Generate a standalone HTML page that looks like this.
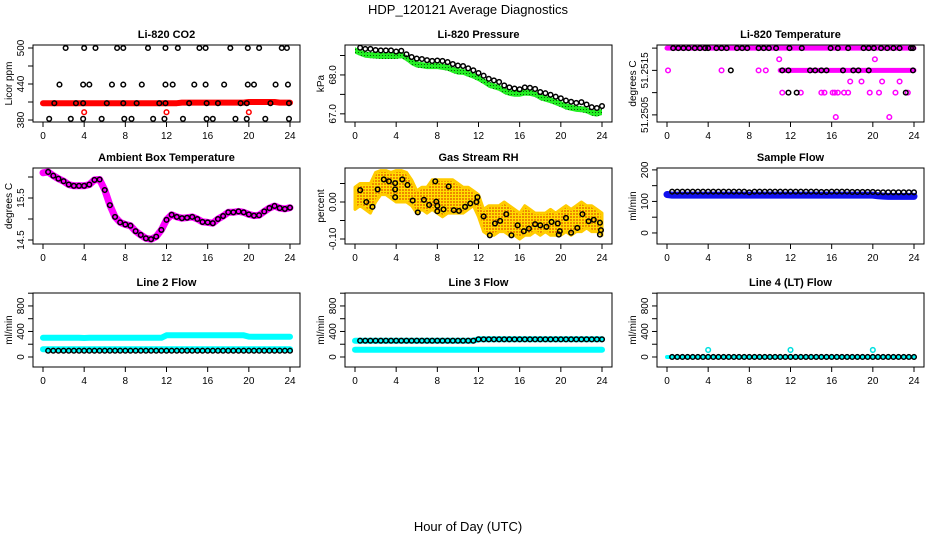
<!DOCTYPE html>
<html><head><meta charset="utf-8">
<style>
body{margin:0;background:#fff;}
svg{display:block;font-family:"Liberation Sans",Arial,sans-serif;}
</style></head>
<body>
<svg id="c" width="936" height="540" viewBox="0 0 936 540">
<defs>
<pattern id="pGreen" width="3" height="3" patternUnits="userSpaceOnUse"><rect width="3" height="3" fill="#22ee22"/><rect x="1" y="1" width="1" height="1" fill="#0a5a0a"/></pattern>
<pattern id="pOrange" width="3" height="3" patternUnits="userSpaceOnUse"><rect width="3" height="3" fill="#ffe000"/><rect x="0" y="0" width="2" height="2" fill="#ee8800"/></pattern>
</defs>
<text x="468" y="14" text-anchor="middle" font-size="13">HDP_120121  Average Diagnostics</text>
<text x="468" y="531" text-anchor="middle" font-size="13">Hour of Day (UTC)</text>
</svg>
<script>
// shared half-hour categories
const hours = [0,0.5,1,1.5,2,2.5,3,3.5,4,4.5,5,5.5,6,6.5,7,7.5,8,8.5,9,9.5,10,10.5,11,11.5,12,12.5,13,13.5,14,14.5,15,15.5,16,16.5,17,17.5,18,18.5,19,19.5,20,20.5,21,21.5,22,22.5,23,23.5,24];
const xTicks = [0,4,8,12,16,20,24];

// CO2
const co2Red = [408,408,408,408,408,408,408,408,408,408,408,408,408,408,408,408,408,408,408,408,408,408,408,408,408,408,408,409,409,409,409,409,409,409,409,409,409,409,409,409,410,410,410,410,410,410,409,409,409];
const co2RedOutHours = [4,12,20];
const co2RedOutVals = [393,393,393];
const co2BlackHours = [2.2,4.0,5.1,7.2,7.8,10.2,11.9,13.1,15.2,15.8,18.2,19.9,21.0,23.2,23.7, 1.6,3.9,4.5,6.7,7.8,9.6,11.9,12.6,14.7,15.8,17.6,19.9,20.5,22.6,23.8, 1.1,3.2,3.9,6.2,7.8,9.1,11.3,11.9,14.2,15.9,17.0,19.2,19.8,22.1,23.9, 0.6,2.7,3.9,5.7,7.9,8.6,10.7,11.8,13.6,15.9,16.5,18.7,19.8,21.6,23.9];
const co2BlackVals = [500,500,500,500,500,500,500,500,500,500,500,500,500,500,500, 439,439,439,439,439,439,439,439,439,439,439,439,439,439,439, 408,408,408,408,408,408,408,408,408,408,408,408,408,408,408, 382,382,382,382,382,382,382,382,382,382,382,382,382,382,382];

// Pressure
const presBlack = [68.70,68.70,68.67,68.67,68.64,68.63,68.63,68.63,68.60,68.62,68.53,68.46,68.42,68.41,68.38,68.36,68.37,68.36,68.33,68.28,68.24,68.23,68.17,68.12,68.05,67.98,67.90,67.86,67.82,67.73,67.68,67.65,67.63,67.68,67.67,67.64,67.56,67.53,67.49,67.44,67.40,67.34,67.31,67.28,67.30,67.24,67.17,67.15,67.20];
const presGreen = [68.64,68.58,68.53,68.52,68.51,68.50,68.50,68.50,68.50,68.52,68.44,68.34,68.28,68.26,68.24,68.24,68.24,68.22,68.20,68.14,68.10,68.09,68.04,67.99,67.93,67.85,67.76,67.72,67.68,67.60,67.55,67.53,67.53,67.56,67.55,67.52,67.44,67.40,67.36,67.31,67.26,67.20,67.17,67.14,67.13,67.10,67.04,67.02,67.06];

// Li-820 temperature
const tempBandHours = [[0,24],[11,24]];
const tempBandVals = [51.2520,51.2515];
const tempMagHours = [0.1,5.3,8.9,9.6,10.9,20.2,17.8,18.9,20.9,22.6,11.2,13.0,15.0,15.3,16.1,16.3,16.6,17.2,17.6,19.7,20.6,22.2,23.4,16.4,21.6];
const tempMagVals = [51.2515,51.2515,51.2515,51.2515,51.25175,51.25175,51.25125,51.25125,51.25125,51.25125,51.2510,51.2510,51.2510,51.2510,51.2510,51.2510,51.2510,51.2510,51.2510,51.2510,51.2510,51.2510,51.2510,51.25045,51.25045];
const tempBlackHours = [0.6,1.1,1.6,2.1,2.7,3.2,3.7,4.0,4.8,5.3,5.8,6.8,7.3,7.8,8.9,9.4,9.9,10.6,11.9,13.1,15.9,16.6,17.6,19.1,19.6,20.1,20.8,21.4,22.0,22.6,23.7,23.9, 6.2,11.2,11.8,13.9,14.4,15.0,15.5,17.1,18.1,18.6,19.6,23.9, 11.8,12.6,23.2];
const tempBlackVals = [51.2520,51.2520,51.2520,51.2520,51.2520,51.2520,51.2520,51.2520,51.2520,51.2520,51.2520,51.2520,51.2520,51.2520,51.2520,51.2520,51.2520,51.2520,51.2520,51.2520,51.2520,51.2520,51.2520,51.2520,51.2520,51.2520,51.2520,51.2520,51.2520,51.2520,51.2520,51.2520, 51.2515,51.2515,51.2515,51.2515,51.2515,51.2515,51.2515,51.2515,51.2515,51.2515,51.2515,51.2515, 51.2510,51.2510,51.2510];

// Ambient box temperature
const ambVals = [16.10,16.12,16.03,15.96,15.90,15.82,15.79,15.79,15.79,15.82,15.93,15.94,15.69,15.33,15.05,14.92,14.87,14.84,14.71,14.62,14.54,14.52,14.58,14.74,14.98,15.10,15.05,15.02,15.03,15.05,15.00,14.93,14.92,14.90,15.00,15.07,15.16,15.16,15.18,15.16,15.11,15.08,15.09,15.18,15.26,15.31,15.26,15.24,15.27];

// Gas stream RH
const rhHigh = [0.04,0.05,0.05,0.05,0.08,0.085,0.085,0.08,0.085,0.085,0.08,0.06,0.03,0.04,0.04,0.06,0.06,0.06,0.06,0.06,0.05,0.04,0.04,0.03,0.02,-0.02,-0.01,-0.01,-0.01,0.0,-0.01,-0.02,-0.03,-0.01,-0.02,-0.03,-0.03,-0.03,-0.02,-0.03,-0.02,-0.01,-0.02,-0.01,0.0,-0.01,-0.01,-0.02,-0.03];
const rhLow = [-0.02,-0.01,-0.02,-0.03,0.0,0.02,0.02,0.01,0.0,0.0,0.0,-0.01,-0.03,-0.02,-0.03,-0.02,-0.03,-0.04,-0.03,-0.03,-0.03,-0.03,-0.02,-0.01,-0.04,-0.08,-0.09,-0.09,-0.08,-0.08,-0.09,-0.09,-0.10,-0.09,-0.09,-0.08,-0.09,-0.08,-0.09,-0.09,-0.09,-0.08,-0.09,-0.08,-0.08,-0.07,-0.08,-0.08,-0.09];
const rhBlackHours = [0.5,1.1,1.7,2.2,2.8,3.3,3.9,3.9,3.9,4.6,5.1,5.6,6.1,6.7,7.2,7.8,7.9,8.0,8.0,8.6,9.1,9.6,10.1,10.7,11.2,11.8,11.9,12.5,13.1,13.6,14.1,14.7,15.2,15.8,16.4,16.9,17.5,18.0,18.6,19.1,19.7,19.8,19.9,20.5,21.0,21.6,22.1,22.7,23.2,23.8,23.9,23.8];
const rhBlackVals = [0.032,0.0,-0.013,0.034,0.061,0.056,0.051,0.034,0.013,0.061,0.046,0.004,-0.028,0.006,-0.008,0.056,0.001,-0.010,-0.025,-0.020,0.042,-0.022,-0.024,-0.013,-0.004,0.0,0.013,-0.039,-0.090,-0.058,-0.051,-0.033,-0.090,-0.063,-0.079,-0.072,-0.060,-0.063,-0.067,-0.054,-0.058,-0.088,-0.079,-0.043,-0.083,-0.070,-0.033,-0.052,-0.048,-0.056,-0.076,-0.088];

// Sample flow
const sampBlue = [122,120,120,120,120,120,120,120,120,120,120,120,120,120,120,120,120,120,120,120,120,120,120,120,120,120,120,120,120,120,120,120,120,120,120,120,120,120,120,120,120,118,117,116,116,116,116,116,116];
const sampBlack = [null,131,131,131,131,131,131,131,131,131,131,131,131,131,131,131,129,131,131,131,131,131,131,131,131,131,131,131,131,131,130,130,131,131,131,131,130,130,130,130,130,129,129,129,129,129,129,129,129];

// Line flows
const l2Upper = [303,303,302,300,300,300,300,300,298,300,300,300,300,300,300,300,300,300,300,300,300,300,300,300,340,340,340,340,340,340,340,340,340,340,340,340,340,340,340,340,320,318,318,318,318,318,318,318,318];
const l2Lower = [120,120,120,120,120,120,120,120,120,120,120,120,120,120,120,120,120,120,120,120,120,120,120,120,120,120,120,120,120,120,120,120,120,120,120,120,120,120,120,120,120,120,120,120,120,120,120,120,120];
const l2Black = [null,98,98,98,98,98,98,98,98,98,98,98,98,98,98,98,98,98,98,98,98,98,98,98,98,98,98,98,98,98,98,98,98,98,98,98,98,98,98,98,98,98,98,98,98,98,98,98,98];
const l3Upper = [255,255,255,255,255,255,255,255,255,255,255,255,255,255,255,255,255,255,255,255,255,255,255,255,277,277,277,277,277,277,277,277,277,277,277,277,277,277,277,277,277,277,277,277,277,277,277,277,277];
const l3Lower = [112,112,112,112,112,112,112,112,112,112,112,112,112,112,112,112,112,112,112,112,112,112,112,112,112,112,112,112,112,112,112,112,112,112,112,112,112,112,112,112,112,112,112,112,112,112,112,112,112];
const l3Black = [null,255,255,255,255,255,255,255,255,255,255,255,255,255,255,255,255,255,255,255,255,255,255,255,277,277,277,277,277,277,277,277,277,277,277,277,277,277,277,277,277,277,277,277,277,277,277,277,277];
const l4Cyan = [0,0,0,0,0,0,0,0,0,0,0,0,0,0,0,0,0,0,0,0,0,0,0,0,0,0,0,0,0,0,0,0,0,0,0,0,0,0,0,0,0,0,0,0,0,0,0,0,0];
const l4Black = [null,0,0,0,0,0,0,0,0,0,0,0,0,0,0,0,0,0,0,0,0,0,0,0,0,0,0,0,0,0,0,0,0,0,0,0,0,0,0,0,0,0,0,0,0,0,0,0,0];
const l4OutHours = [4,12,20];
const l4OutVals = [110,110,110];

const NS = 'http://www.w3.org/2000/svg';
const svg = document.getElementById('c');
function mk(tag, attrs, parent){
  const e = document.createElementNS(NS, tag);
  for (const k in attrs) e.setAttribute(k, attrs[k]);
  (parent||svg).appendChild(e);
  return e;
}
const colX = [33,345,657], rowY = [[45,122],[168,244],[293,367]];
const W = 267;

function panel(col, row, name, title, ylab, yDom, yTicks, yLabels){
  const L = colX[col], T = rowY[row][0], B = rowY[row][1];
  const g = mk('g', {});
  
  
  const sx = h => L + 10 + h * (W - 20) / 24;
  const sy = v => B - (v - yDom[0]) / (yDom[1] - yDom[0]) * (B - T);
  const t = mk('text', {x: L + W/2, y: T - 7, 'text-anchor':'middle', 'font-size':11, 'font-weight':'bold'}, g);
  t.textContent = title;
  
  
  const yl = mk('text', {x: 0, y: 0, 'text-anchor':'middle', 'font-size':10, transform:`translate(${L-21},${(T+B)/2}) rotate(-90)`}, g);
  yl.textContent = ylab;
  
  
  const xa = mk('g', {}, g);
  
  
  mk('line', {x1: sx(xTicks[0]), x2: sx(xTicks[xTicks.length-1]), y1: B, y2: B, stroke:'#000'}, xa);
  xTicks.forEach(h => {
    mk('line', {x1: sx(h), x2: sx(h), y1: B, y2: B + 5, stroke:'#000'}, xa);
    const tx = mk('text', {x: sx(h), y: B + 17, 'text-anchor':'middle', 'font-size':10}, xa);
    tx.textContent = h;
  });
  const ya = mk('g', {}, g);
  
  
  yTicks.forEach((v, i) => {
    mk('line', {x1: L - 5, x2: L, y1: sy(v), y2: sy(v), stroke:'#000'}, ya);
    if (yLabels[i] !== '') {
      const tx = mk('text', {x: 0, y: 0, 'text-anchor':'middle', 'font-size':10, transform:`translate(${L-9},${sy(v)}) rotate(-90)`}, ya);
      tx.textContent = yLabels[i];
    }
  });
  const clip = 'clip-' + name;
  const cp = mk('clipPath', {id: clip}, g);
  mk('rect', {x: L, y: T, width: W, height: B - T}, cp);
  const plot = mk('g', {'clip-path': `url(#${clip})`}, g);
  const box = mk('rect', {x: L, y: T, width: W, height: B - T, fill:'none', stroke:'#000'}, g);
  
  
  return {sx, sy, plot};
}
function band(p, name, hs, vs, color, width){
  const pts = [];
  hs.forEach((h, i) => { if (vs[i] !== null) pts.push(p.sx(h).toFixed(1) + ',' + p.sy(vs[i]).toFixed(1)); });
  const pl = mk('polyline', {points: pts.join(' '), fill:'none', stroke: color, 'stroke-width': width, 'stroke-linecap':'round', 'stroke-linejoin':'round'}, p.plot);
  
  
}
function area(p, name, hs, hi, lo, fill){
  const pts = [];
  hs.forEach((h, i) => pts.push(p.sx(h).toFixed(1) + ',' + p.sy(hi[i]).toFixed(1)));
  for (let i = hs.length - 1; i >= 0; i--) pts.push(p.sx(hs[i]).toFixed(1) + ',' + p.sy(lo[i]).toFixed(1));
  const pg = mk('polygon', {points: pts.join(' '), fill: fill, stroke: fill === 'url(#pOrange)' ? '#ffcc00' : 'none', 'stroke-width': 3, 'stroke-linejoin':'round'}, p.plot);
  
  
}
function circles(p, name, hs, vs, color){
  const g = mk('g', {}, p.plot);
  
  
  hs.forEach((h, i) => {
    if (vs[i] === null || vs[i] === undefined) return;
    const c = mk('circle', {cx: p.sx(h), cy: p.sy(vs[i]), r: 2.3, fill:'none', stroke: color, 'stroke-width': 1.5}, g);
    
    
  });
}
function offsetVals(arr, d){ return arr.map(v => v === null ? null : v + d); }

// 1 CO2
let p = panel(0, 0, 'co2', 'Li-820 CO2', 'Licor ppm', [376.7, 505], [380,410,440,470,500], ['380','','440','','500']);
band(p, 'co2-red-series', hours, co2Red, '#ff0000', 6);
circles(p, 'co2-red-outliers', co2RedOutHours, co2RedOutVals, '#ff0000');
circles(p, 'co2-black-series', co2BlackHours, co2BlackVals, '#000');

// 2 Pressure
p = panel(1, 0, 'pressure', 'Li-820 Pressure', 'kPa', [66.79, 68.77], [67.0,67.5,68.0,68.5], ['67.0','','68.0','']);
area(p, 'pressure-green-series', hours, offsetVals(presGreen, 0.07), offsetVals(presGreen, -0.09), 'url(#pGreen)');
circles(p, 'pressure-black-series', hours.slice(1), presBlack.slice(1), '#000');

// 3 Temperature
p = panel(2, 0, 'li820-temp', 'Li-820 Temperature', 'degrees C', [51.25034, 51.25207], [51.2505,51.2510,51.2515,51.2520], ['51.2505','','51.2515','']);
tempBandHours.forEach((hh, i) => band(p, 'li820-temp-magenta-band', hh, [tempBandVals[i], tempBandVals[i]], '#ff00ff', 5));
circles(p, 'li820-temp-magenta-points', tempMagHours, tempMagVals, '#ff00ff');
circles(p, 'li820-temp-black-series', tempBlackHours, tempBlackVals, '#000');

// 4 Ambient
p = panel(0, 1, 'ambient-temp', 'Ambient Box Temperature', 'degrees C', [14.405, 16.214], [14.5,15.0,15.5,16.0], ['14.5','','15.5','']);
band(p, 'ambient-magenta-series', hours, ambVals, '#ff00ff', 7);
circles(p, 'ambient-black-series', hours.slice(1), ambVals.slice(1), '#000');

// 5 RH
p = panel(1, 1, 'gas-rh', 'Gas Stream RH', 'percent', [-0.1135, 0.0919], [-0.10,-0.05,0.00,0.05], ['-0.10','','0.00','']);
area(p, 'rh-orange-series', hours, rhHigh, rhLow, 'url(#pOrange)');
circles(p, 'rh-black-series', rhBlackHours, rhBlackVals, '#000');

// 6 Sample flow
p = panel(2, 1, 'sample-flow', 'Sample Flow', 'ml/min', [-35, 206], [0,50,100,150,200], ['0','','100','','200']);
band(p, 'sample-blue-series', hours, sampBlue, '#1010ee', 7);
circles(p, 'sample-black-series', hours, sampBlack, '#000');

const flowDom = [-157, 1003], flowTicks = [0,200,400,600,800,1000], flowLabels = ['0','','400','','800',''];
// 7 Line 2
p = panel(0, 2, 'line2-flow', 'Line 2 Flow', 'ml/min', flowDom, flowTicks, flowLabels);
band(p, 'line2-cyan-upper', hours, l2Upper, '#00ffff', 6);
band(p, 'line2-cyan-lower', hours, l2Lower, '#00ffff', 6);
circles(p, 'line2-black-series', hours, l2Black, '#000');

// 8 Line 3
p = panel(1, 2, 'line3-flow', 'Line 3 Flow', 'ml/min', flowDom, flowTicks, flowLabels);
band(p, 'line3-cyan-upper', hours, l3Upper, '#00ffff', 6);
band(p, 'line3-cyan-lower', hours, l3Lower, '#00ffff', 6);
circles(p, 'line3-black-series', hours, l3Black, '#000');

// 9 Line 4
p = panel(2, 2, 'line4-flow', 'Line 4 (LT) Flow', 'ml/min', flowDom, flowTicks, flowLabels);
band(p, 'line4-cyan-series', hours, l4Cyan, '#00ffff', 4);
circles(p, 'line4-black-series', hours, l4Black, '#000');
circles(p, 'line4-cyan-outliers', l4OutHours, l4OutVals, '#00e0e0');
</script>
</body></html>
